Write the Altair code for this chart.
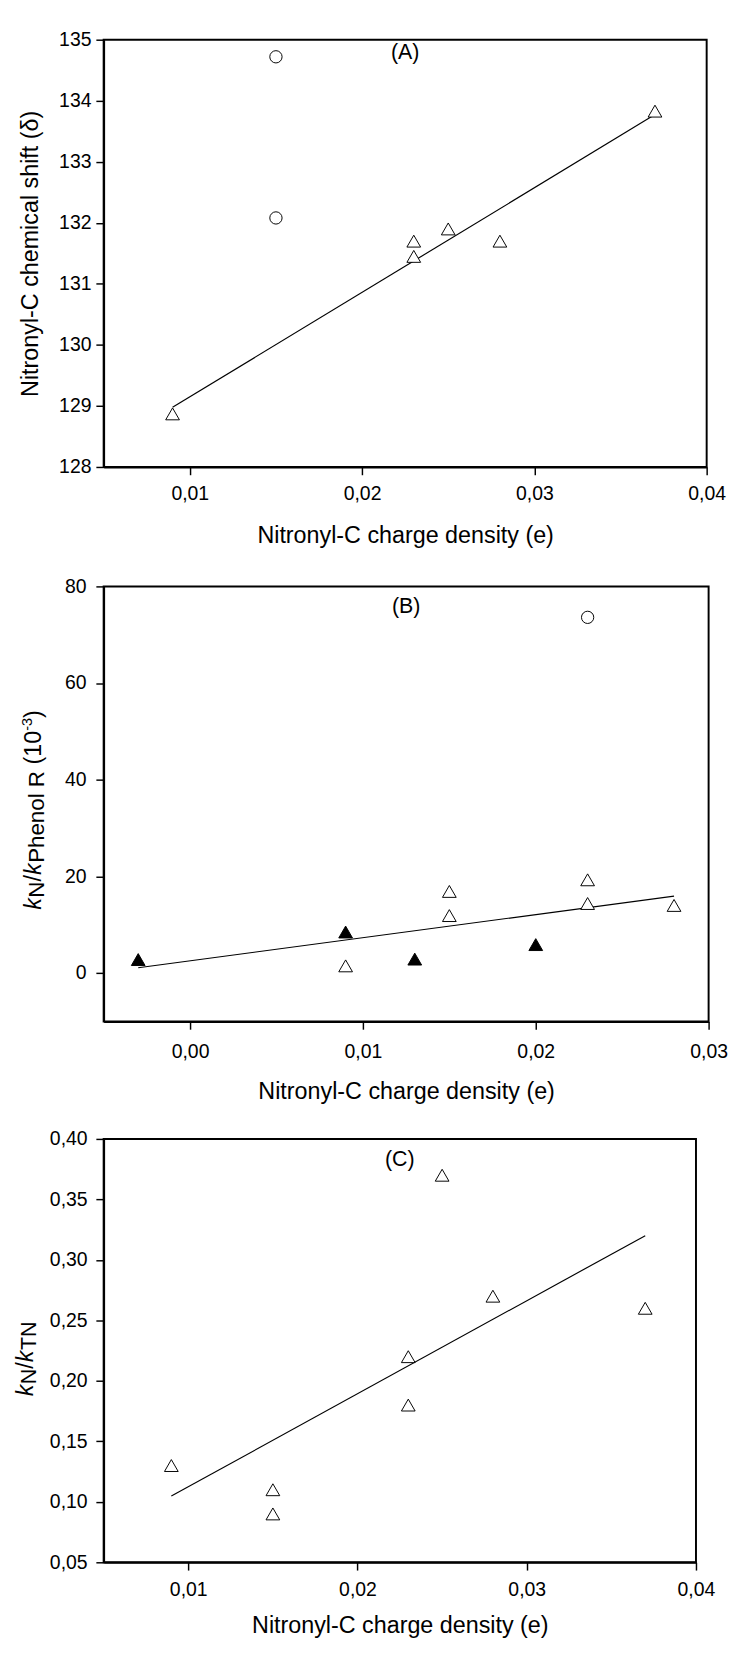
import altair as alt
import pandas as pd

FONT = "Liberation Sans"

# ---------------- data ----------------
# Panel A
a_tri_x = [0.009, 0.023, 0.023, 0.025, 0.028, 0.037]
a_tri_y = [128.87, 131.70, 131.45, 131.90, 131.70, 133.83]
a_circ_x = [0.015, 0.015]
a_circ_y = [134.72, 132.08]
a_xticks = [0.01, 0.02, 0.03, 0.04]
a_yticks = [128, 129, 130, 131, 132, 133, 134, 135]

# Panel B
b_open_x = [0.009, 0.015, 0.015, 0.023, 0.023, 0.028]
b_open_y = [1.5, 16.9, 11.9, 19.3, 14.4, 14.0]
b_fill_x = [-0.003, 0.009, 0.013, 0.020]
b_fill_y = [2.8, 8.5, 2.9, 5.9]
b_circ_x = [0.023]
b_circ_y = [73.6]
b_xticks = [0.00, 0.01, 0.02, 0.03]
b_yticks = [0, 20, 40, 60, 80]

# Panel C
c_tri_x = [0.009, 0.015, 0.015, 0.023, 0.023, 0.025, 0.028, 0.037]
c_tri_y = [0.13, 0.11, 0.09, 0.22, 0.18, 0.37, 0.27, 0.26]
c_xticks = [0.01, 0.02, 0.03, 0.04]
c_yticks = [0.05, 0.10, 0.15, 0.20, 0.25, 0.30, 0.35, 0.40]

XTITLE = "Nitronyl-C charge density (e)"
COMMA2 = "replace(format(datum.value, '.2f'), '.', ',')"

TRI_SIZE = 200
CIRC_SIZE = 160


def xenc(dom, ticks, lpad, tpad):
    return alt.X("x:Q", scale=alt.Scale(domain=dom, nice=False, zero=False),
                 axis=alt.Axis(values=ticks, labelExpr=COMMA2, title=XTITLE,
                               labelPadding=lpad, titlePadding=tpad,
                               labelFlush=False, labelOverlap=False))


def yenc(dom, ticks, lpad, title=None, tpad=0, expr=None):
    kw = dict(values=ticks, labelPadding=lpad, labelFlush=False, labelOverlap=False)
    if expr:
        kw["labelExpr"] = expr
    if title:
        kw["title"] = title
        kw["titlePadding"] = tpad
    else:
        kw["title"] = ""
    return alt.Y("y:Q", scale=alt.Scale(domain=dom, nice=False, zero=False), axis=alt.Axis(**kw))


def points(df, X, Y, shape, size, fill):
    return alt.Chart(df).mark_point(shape=shape, size=size, filled=True, fill=fill,
                                    stroke="black", strokeWidth=1, opacity=1).encode(x=X, y=Y)


def label(txt, w, yy):
    return alt.Chart(pd.DataFrame({"t": [txt]})).mark_text(
        font=FONT, fontSize=22, color="black", baseline="middle", align="center"
    ).encode(text="t:N", x=alt.value(w / 2), y=alt.value(yy))


def frame(left, top, bottom):
    # invisible guide that fixes the panel's layout bounds
    return alt.Chart(pd.DataFrame({"d": [0]})).mark_rule(opacity=0, strokeWidth=1).encode(
        x=alt.value(-left), y=alt.value(-top), y2=alt.value(bottom))


def title_pieces(pieces):
    layers = []
    for txt, fs, style, xo, yp in pieces:
        layers.append(
            alt.Chart(pd.DataFrame({"t": [txt]})).mark_text(
                font=FONT, fontSize=fs, fontStyle=style, color="black", angle=270,
                align="left", baseline="alphabetic"
            ).encode(text="t:N", x=alt.value(xo), y=alt.value(yp))
        )
    return layers


def rich_title(parts, start):
    # parts: (text, fontSize, style, x offset, advance width)
    out = []
    y = start
    for txt, fs, style, xo, adv in parts:
        out.append((txt, fs, style, xo, y))
        y -= adv
    return title_pieces(out)


# ---------------- panel A ----------------
WA, HA = 621, 440
dfA_t = pd.DataFrame({"x": a_tri_x, "y": a_tri_y})
dfA_c = pd.DataFrame({"x": a_circ_x, "y": a_circ_y})
XA = xenc([0.005, 0.04], a_xticks, 10, 21)
YA = yenc([128, 135], a_yticks, 5, "Nitronyl-C chemical shift (\u03b4)", 17)
lineA = alt.Chart(dfA_t).transform_regression("x", "y").mark_line(
    color="black", strokeWidth=1.2).encode(x=XA, y=YA)
A = alt.layer(
    frame(100, 8, HA + 90),
    lineA,
    points(dfA_t, XA, YA, "triangle-up", TRI_SIZE, "white"),
    points(dfA_c, XA, YA, "circle", CIRC_SIZE, "white"),
    label("(A)", WA, 13),
).properties(width=WA, height=HA)

# ---------------- panel B ----------------
WB, HB = 623, 448
dfB_o = pd.DataFrame({"x": b_open_x, "y": b_open_y})
dfB_f = pd.DataFrame({"x": b_fill_x, "y": b_fill_y})
dfB_all = pd.concat([dfB_o, dfB_f], ignore_index=True)
dfB_c = pd.DataFrame({"x": b_circ_x, "y": b_circ_y})
XB = xenc([-0.005, 0.03], b_xticks, 13, 19)
YB = yenc([-10, 80], b_yticks, 10)
lineB = alt.Chart(dfB_all).transform_regression("x", "y").mark_line(
    color="black", strokeWidth=1.2).encode(x=XB, y=YB)
B_title = rich_title([
    ("k", 24, "italic", -65, 12.5),
    ("N", 23, "normal", -61, 16.6),
    ("/", 24, "normal", -65, 6.7),
    ("k", 24, "italic", -65, 12.5),
    ("Phenol R", 23, "normal", -61, 94.6 + 6.7),
    ("(10", 24, "normal", -65, 34.7),
    ("-3", 15, "normal", -74, 13.3),
    (")", 24, "normal", -65, 8),
], 333)
B = alt.layer(
    frame(98, 14, HB + 88),
    lineB,
    points(dfB_o, XB, YB, "triangle-up", TRI_SIZE, "white"),
    points(dfB_f, XB, YB, "triangle-up", TRI_SIZE, "black"),
    points(dfB_c, XB, YB, "circle", CIRC_SIZE, "white"),
    label("(B)", WB, 20),
    *B_title,
).properties(width=WB, height=HB)

# ---------------- panel C ----------------
WC, HC = 610, 436
dfC_t = pd.DataFrame({"x": c_tri_x, "y": c_tri_y})
XC = xenc([0.005, 0.04], c_xticks, 10, 15)
YC = yenc([0.05, 0.40], c_yticks, 9, expr=COMMA2)
lineC = alt.Chart(dfC_t).transform_regression("x", "y").mark_line(
    color="black", strokeWidth=1.2).encode(x=XC, y=YC)
C_title = rich_title([
    ("k", 24, "italic", -73, 12.5),
    ("N", 22, "normal", -70, 15.9),
    ("/", 24, "normal", -73, 6.7),
    ("k", 24, "italic", -73, 12.5),
    ("TN", 22, "normal", -70, 29.3),
], 265)
C = alt.layer(
    frame(111, 14, HC + 60),
    lineC,
    points(dfC_t, XC, YC, "triangle-up", TRI_SIZE, "white"),
    label("(C)", WC, 21),
    *C_title,
).properties(width=WC, height=HC)

chart = alt.vconcat(A, B, C, spacing=17).properties(
    padding={"top": -3, "left": -13.5, "right": 0, "bottom": 0}
).configure_view(
    stroke="black", strokeWidth=2
).configure_axis(
    grid=False, domainColor="black", domainWidth=2, tickColor="black", tickWidth=1.5,
    tickSize=8, labelFont=FONT, labelFontSize=20, labelColor="black",
    titleFont=FONT, titleFontSize=24, titleFontWeight="normal", titleColor="black"
)

chart.save("out.html", embed_options={"renderer": "svg", "actions": False})
